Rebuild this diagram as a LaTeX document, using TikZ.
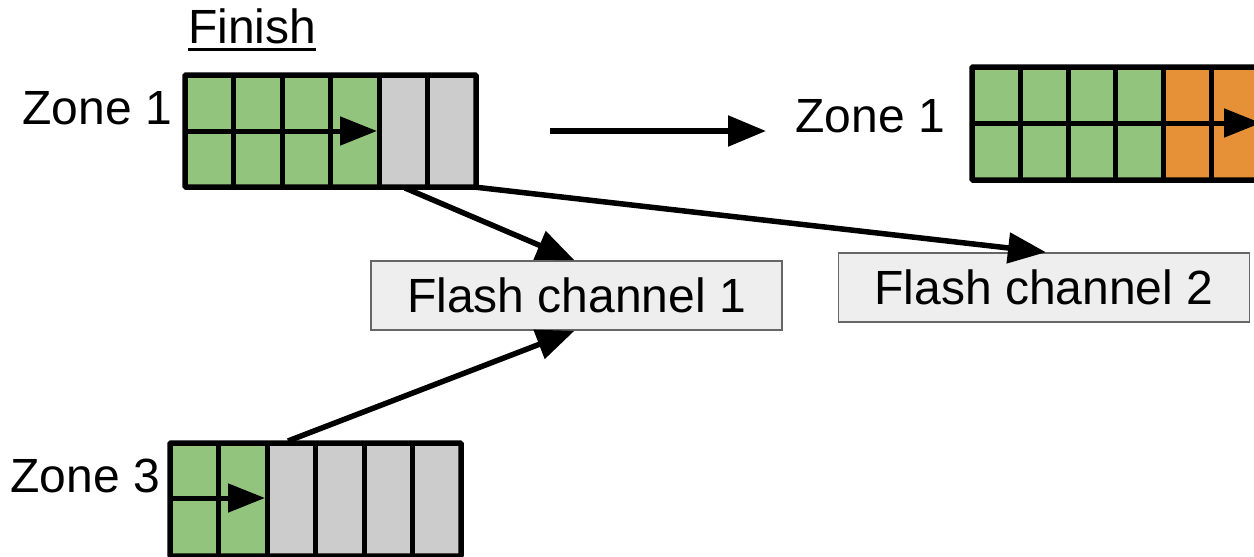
\documentclass[tikz,border=0pt]{standalone}
\usepackage{fontspec}
\setmainfont{Liberation Sans}
\usetikzlibrary{arrows.meta}
\definecolor{cellgreen}{HTML}{93C47D}
\definecolor{cellgray}{HTML}{CCCCCC}
\definecolor{cellorange}{HTML}{E69138}
\definecolor{chanfill}{HTML}{EEEEEE}
\definecolor{chanedge}{HTML}{666666}
\tikzset{
  gridline/.style={line width=5pt, line cap=butt},
  gridbox/.style={draw, line width=5.5pt, inner sep=0pt, rounded corners=1pt},
  cellarrow/.style={gridline, -{Triangle[length=37pt,width=28pt]}},
  conn/.style={line width=5.5pt, -{Triangle[length=38pt,width=30pt]}},
  chan/.style={draw=chanedge, line width=1.5pt, fill=chanfill, inner sep=0pt,
    minimum width=411pt, minimum height=69pt,
    font=\fontsize{48}{52}\selectfont},
  lbl/.style={inner sep=0pt, font=\fontsize{48}{52}\selectfont},
}
\begin{document}
\begin{tikzpicture}[x=1pt,y=-1pt]
\clip (0,0) rectangle (1254,557);
\fill[white] (0,0) rectangle (1254,557);

% heading
\node[lbl, anchor=base west] (fin) at (188,43) {Finish};
\draw[line width=3.5pt] ([yshift=-6pt]fin.south west) -- ([yshift=-6pt]fin.south east);

% Zone 1 (before)
\fill[cellgreen] (185,75) rectangle (379,187);
\fill[cellgray] (379,75) rectangle (476,187);
\foreach \x in {233.5,282,330.5,379,427.5} \draw[gridline] (\x,75) -- (\x,187);
\draw[cellarrow] (185,131) -- (377,131);
\node[gridbox, minimum width=291pt, minimum height=112pt] (z1) at (330.5,131) {};
\node[lbl, anchor=base east] (z1lbl) at (172,124) {Zone 1};

% Zone 1 (after)
\fill[cellgreen] (972,67) rectangle (1163,180);
\fill[cellorange] (1163,67) rectangle (1300,180);
\foreach \x in {1020,1068,1115.5,1163,1211} \draw[gridline] (\x,67) -- (\x,180);
\draw[cellarrow] (972,123) -- (1261,123);
\node[gridbox, minimum width=340pt, minimum height=113pt] (z1b) at (1142,123.5) {};
\node[lbl, anchor=base east] (z1blbl) at (945,132) {Zone 1};

% Zone 3
\fill[cellgreen] (170,443) rectangle (267,556);
\fill[cellgray] (267,443) rectangle (461,556);
\foreach \x in {218.5,267,315.5,364,412.5} \draw[gridline] (\x,443) -- (\x,556);
\draw[cellarrow] (170,498) -- (265,498);
\node[gridbox, minimum width=291pt, minimum height=113pt] (z3) at (315.5,499.5) {};
\node[lbl, anchor=base east] (z3lbl) at (160,492) {Zone 3};

% flash channels
\node[chan] (f1) at (576.5,295.5) {Flash channel 1};
\node[chan] (f2) at (1044,287.5) {Flash channel 2};

% connectors
\coordinate (mvfrom) at (550,131);
\coordinate (mvto) at (766,131);
\draw[conn] (mvfrom) -- (mvto);

\coordinate (z1a) at (405,188);
\coordinate (z1c) at (474,187);
\coordinate (z3a) at (288,441);
\draw[conn] (z1a) -- ([xshift=-2pt]f1.north);
\draw[conn] (z1c) -- ([xshift=2pt]f2.north);
\draw[conn] (z3a) -- ([xshift=-2pt]f1.south);
\end{tikzpicture}
\end{document}
